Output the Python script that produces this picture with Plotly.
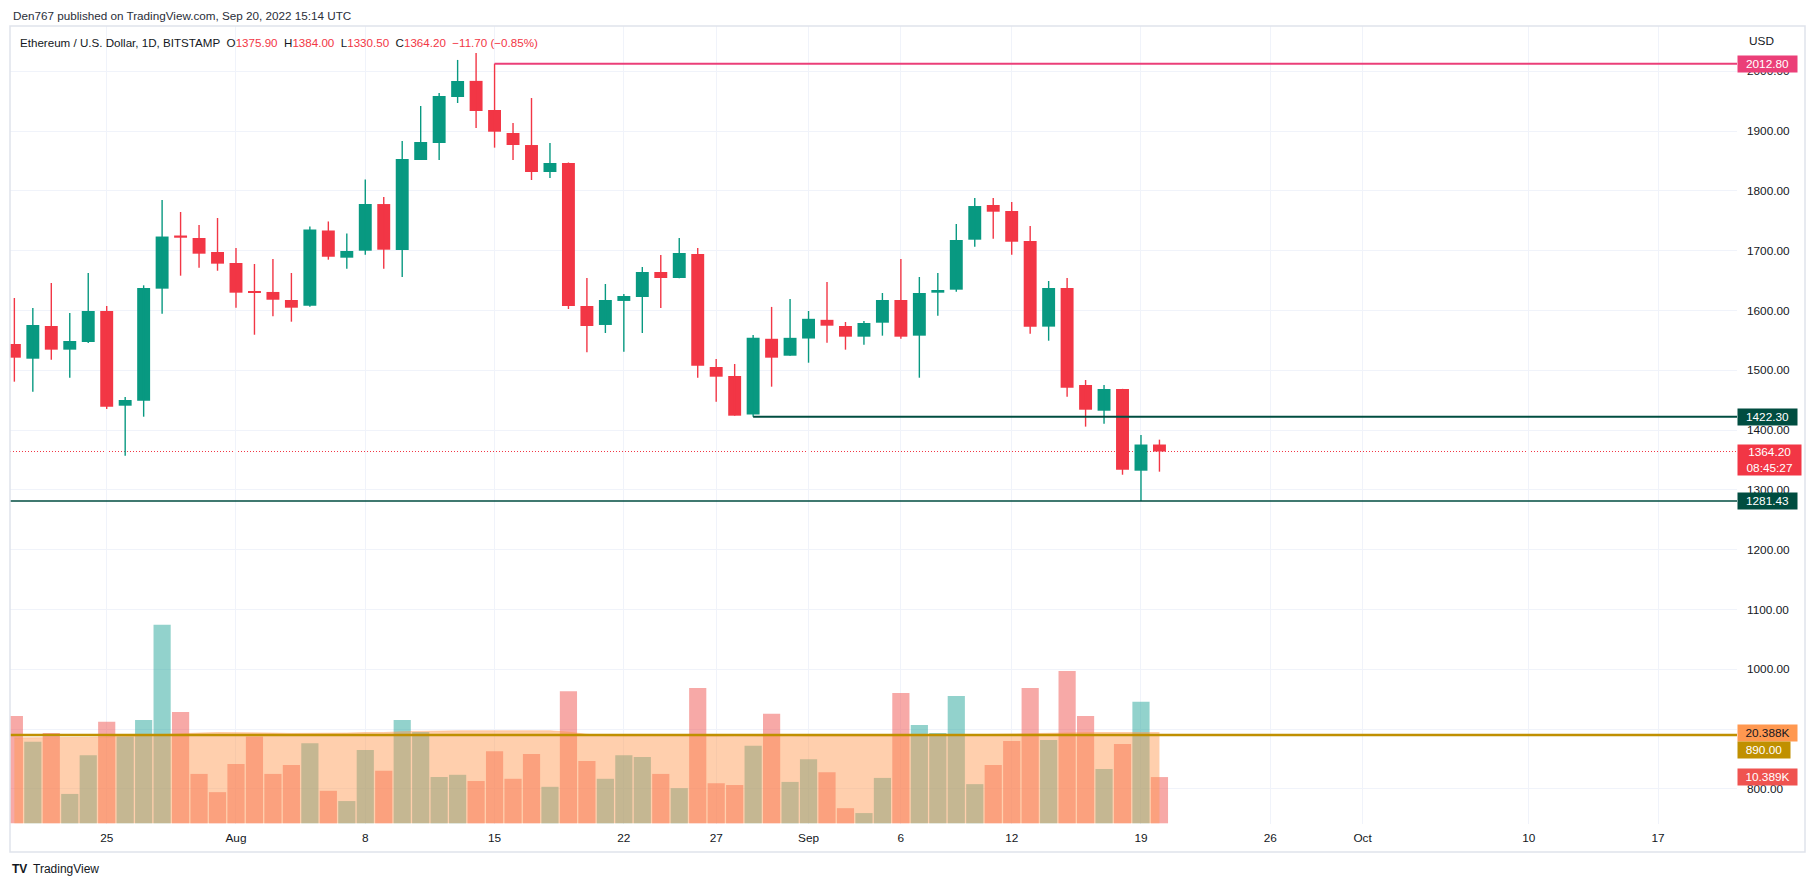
import plotly.graph_objects as go
import pandas as pd

# ---------------- data ----------------
dates = pd.date_range("2022-07-20", "2022-09-20", freq="D")

opens = [1544.0, 1519.4, 1574.1, 1534.5, 1547.3, 1599.2, 1440.8, 1449.2, 1636.5, 1725.4,
         1721.2, 1697.8, 1679.4, 1631.0, 1631.0, 1617.6, 1608.0, 1733.8, 1688.3, 1700.0,
         1778.0, 1701.2, 1851.7, 1880.1, 1957.0, 1984.0, 1935.3, 1896.8, 1876.7, 1831.6,
         1846.7, 1607.5, 1575.8, 1616.0, 1622.6, 1664.4, 1654.3, 1694.5, 1505.5, 1490.5,
         1426.1, 1552.7, 1524.4, 1553.1, 1584.4, 1574.1, 1556.2, 1579.6, 1617.6, 1557.9,
         1629.8, 1634.8, 1718.4, 1776.4, 1766.4, 1716.2, 1573.0, 1637.6, 1475.4, 1432.4,
         1468.7, 1332.1, 1375.9]
highs = [1620.9, 1604.2, 1646.0, 1595.8, 1662.7, 1607.5, 1455.3, 1642.1, 1784.8, 1764.7,
         1743.0, 1754.7, 1704.5, 1677.8, 1686.1, 1662.7, 1740.5, 1748.9, 1728.8, 1819.0,
         1789.8, 1883.4, 1942.0, 1963.7, 2019.0, 2030.6, 2012.8, 1913.5, 1955.3, 1880.1,
         1847.5, 1654.3, 1644.3, 1627.6, 1672.7, 1692.8, 1721.2, 1704.5, 1519.0, 1510.5,
         1559.2, 1606.0, 1619.3, 1599.2, 1647.7, 1580.8, 1582.4, 1629.3, 1686.1, 1656.0,
         1662.7, 1744.6, 1788.2, 1788.2, 1781.4, 1741.3, 1649.3, 1654.3, 1483.8, 1475.4,
         1469.0, 1391.8, 1384.0]
lows = [1481.0, 1464.2, 1517.7, 1487.6, 1545.6, 1435.3, 1357.2, 1422.4, 1594.6, 1658.2,
        1671.6, 1666.5, 1604.7, 1559.5, 1590.3, 1581.3, 1606.4, 1685.0, 1669.9, 1693.3,
        1669.9, 1656.0, 1851.7, 1851.7, 1947.0, 1905.2, 1872.3, 1851.7, 1818.2, 1821.6,
        1602.5, 1530.0, 1562.4, 1531.0, 1562.4, 1604.2, 1654.0, 1487.6, 1447.5, 1424.1,
        1422.3, 1472.6, 1524.4, 1512.7, 1546.2, 1534.5, 1542.8, 1557.9, 1552.8, 1487.6,
        1591.3, 1631.4, 1706.7, 1720.0, 1693.3, 1561.2, 1549.5, 1455.9, 1405.8, 1410.7,
        1325.4, 1281.43, 1330.5]
closes = [1521.1, 1575.8, 1534.5, 1549.0, 1599.2, 1439.2, 1450.3, 1637.6, 1723.7, 1721.7,
          1695.0, 1678.3, 1629.8, 1629.3, 1618.0, 1604.7, 1735.5, 1689.9, 1699.5, 1778.1,
          1701.7, 1853.3, 1881.8, 1958.7, 1983.8, 1933.6, 1899.0, 1876.7, 1831.6, 1846.7,
          1607.5, 1574.1, 1617.6, 1624.3, 1664.4, 1654.3, 1696.2, 1507.7, 1489.3, 1424.1,
          1554.3, 1521.1, 1554.3, 1586.1, 1574.6, 1556.2, 1579.1, 1617.6, 1556.2, 1629.3,
          1634.3, 1717.9, 1774.7, 1765.2, 1715.0, 1573.0, 1637.6, 1470.9, 1434.1, 1468.7,
          1333.8, 1375.9, 1364.2]
volumes_k = [24.1, 18.3, 20.3, 6.6, 15.3, 22.8, 19.5, 23.2, 44.6, 25.0,
             11.1, 7.0, 13.3, 19.5, 11.1, 13.1, 18.0, 7.3, 5.0, 16.5,
             11.8, 23.2, 20.5, 10.4, 10.9, 9.5, 16.2, 10.0, 15.6, 8.2,
             29.7, 14.0, 10.0, 15.3, 14.9, 11.1, 7.9, 30.4, 9.0, 8.6,
             17.4, 24.6, 9.3, 14.4, 11.5, 3.4, 2.3, 10.2, 29.3, 22.1,
             20.3, 28.6, 8.8, 13.1, 18.5, 30.4, 18.7, 34.2, 24.1, 12.2,
             17.8, 27.3, 10.389]
volume_ma_k = [19.2, 19.2, 19.3, 19.3, 19.3, 19.4, 19.6, 19.8, 20.0, 20.1,
               20.3, 20.4, 20.4, 20.4, 20.3, 20.2, 20.2, 20.2, 20.3, 20.4,
               20.4, 20.6, 20.7, 20.7, 20.8, 20.8, 20.8, 20.8, 20.9, 20.8,
               20.5, 20.0, 19.7, 19.6, 19.6, 19.5, 19.5, 19.6, 19.6, 19.5,
               19.6, 19.7, 19.7, 19.6, 19.6, 19.5, 19.5, 19.5, 19.6, 19.7,
               19.7, 19.8, 19.9, 20.0, 20.1, 20.2, 20.3, 20.3, 20.4, 20.4,
               20.4, 20.4, 20.388]

tick_dates = ["2022-07-25", "2022-08-01", "2022-08-08", "2022-08-15", "2022-08-22",
              "2022-08-27", "2022-09-01", "2022-09-06", "2022-09-12", "2022-09-19",
              "2022-09-26", "2022-10-01", "2022-10-10", "2022-10-17"]
tick_text = ["25", "Aug", "8", "15", "22", "27", "Sep", "6", "12", "19", "26", "Oct", "10", "17"]
price_ticks = [800, 900, 1000, 1100, 1200, 1300, 1400, 1500, 1600, 1700, 1800, 1900, 2000]
hidden_price_ticks = [900]   # covered by the volume labels in the reference

resistance_high = 2012.80
resistance_date = "2022-08-15"
support_level = 1422.30
support_date = "2022-08-29"
low_level = 1281.43
line_890 = 890.00

# ---------------- style / geometry ----------------
# The page body has an 8px default margin: the figure is sized so that it
# fills the 1815x887 window exactly, and positions are given in window pixels.
OFF = 8
W, H = 1815 - 2 * OFF - 1, 887 - 2 * OFF - 1
PL, PR, PT, PB = 10, 1737, 26, 824          # plot area, window pixels
GREEN = "#089981"
RED = "#f23645"
TXT = "#131722"
GRID = "#f0f3fa"
FONT = "Liberation Sans"
DAY_MS = 86400000

x_range = ["2022-07-19 18:20", "2022-10-21 06:30"]
y_range = [741.3, 2075.75]
y2_range = [-0.157, 179.17]


def px_x(x):
    return (x - PL) / (PR - PL)


def px_y(y):
    return (PB - y) / (PB - PT)


is_up = [c >= o for o, c in zip(opens, closes)]
body_base = [min(o, c) for o, c in zip(opens, closes)]
body_h = [abs(c - o) for o, c in zip(opens, closes)]
body_col = [GREEN if u else RED for u in is_up]
vol_col = ["rgba(38,166,154,0.5)" if u else "rgba(239,83,80,0.5)" for u in is_up]

fig = go.Figure()

# volume (overlay axis)
fig.add_trace(go.Bar(x=dates, y=volumes_k, marker=dict(color=vol_col, line=dict(width=0)),
                     width=0.93 * DAY_MS, yaxis="y2", hoverinfo="skip"))
fig.add_trace(go.Scatter(x=dates, y=volume_ma_k, mode="lines", fill="tozeroy",
                         fillcolor="rgba(255,152,80,0.47)",
                         line=dict(color="rgba(255,152,80,0.35)", width=1),
                         yaxis="y2", hoverinfo="skip"))

# wicks
for want, col in ((True, GREEN), (False, RED)):
    wx, wy = [], []
    for d, h, l, u in zip(dates, highs, lows, is_up):
        if u == want:
            wx += [d, d, None]
            wy += [l, h, None]
    fig.add_trace(go.Scatter(x=wx, y=wy, mode="lines", line=dict(color=col, width=1.4),
                             hoverinfo="skip"))

# bodies
fig.add_trace(go.Bar(x=dates, y=body_h, base=body_base, width=0.70 * DAY_MS,
                     marker=dict(color=body_col, line=dict(width=0)), hoverinfo="skip"))

shapes = [
    dict(type="line", xref="paper", yref="y", x0=0, x1=1, y0=closes[-1], y1=closes[-1],
         line=dict(color=RED, width=1, dash="1px,2px"), layer="between"),
    dict(type="line", xref="x", yref="y", x0=resistance_date, x1=x_range[1],
         y0=resistance_high, y1=resistance_high, line=dict(color="#eb3f78", width=2), layer="above"),
    dict(type="line", xref="x", yref="y", x0=support_date, x1=x_range[1],
         y0=support_level, y1=support_level, line=dict(color="#004d40", width=2.2), layer="above"),
    dict(type="line", xref="paper", yref="y", x0=0, x1=1, y0=low_level, y1=low_level,
         line=dict(color="#004d40", width=1.5), layer="above"),
    dict(type="line", xref="paper", yref="y", x0=0, x1=1, y0=line_890, y1=line_890,
         line=dict(color="#c09000", width=2.5), layer="above"),
    # frame
    dict(type="rect", xref="paper", yref="paper", x0=0, x1=px_x(1805), y0=px_y(852), y1=1,
         line=dict(color="#e0e3eb", width=1.5), fillcolor="rgba(0,0,0,0)", layer="above"),
]


def axis_label(text, y, yref, bg, fg="white", yshift=0, width=55, height=12):
    return dict(text=text, xref="paper", x=1, xanchor="left", yref=yref, y=y, yanchor="middle",
                yshift=yshift, showarrow=False, bgcolor=bg, borderpad=2, width=width,
                height=height, align="center", font=dict(family=FONT, size=11.8, color=fg))


chg = closes[-1] - closes[-2]
pct = chg / closes[-2] * 100


def red(s):
    return f'<span style="color:{RED}">{s}</span>'


def fmt_signed(v, suffix=""):
    return ("\u2212" if v < 0 else "+") + f"{abs(v):.2f}" + suffix


legend_txt = ("Ethereum / U.S. Dollar, 1D, BITSTAMP\u00a0\u00a0"
              + "O" + red(f"{opens[-1]:.2f}") + "\u00a0\u00a0"
              + "H" + red(f"{highs[-1]:.2f}") + "\u00a0\u00a0"
              + "L" + red(f"{lows[-1]:.2f}") + "\u00a0\u00a0"
              + "C" + red(f"{closes[-1]:.2f}") + "\u00a0\u00a0"
              + red(fmt_signed(chg) + " (" + fmt_signed(pct, "%") + ")"))

annotations = [
    dict(text="Den767 published on TradingView.com, Sep 20, 2022 15:14 UTC", xref="paper",
         yref="paper", x=px_x(10.5), y=px_y(15), xanchor="left", yanchor="middle",
         showarrow=False, font=dict(family=FONT, size=11.7, color="#2a2e39")),
    dict(text=legend_txt, xref="paper", yref="paper", x=px_x(18.4), y=px_y(42),
         xanchor="left", yanchor="middle", showarrow=False,
         font=dict(family=FONT, size=11.6, color=TXT)),
    dict(text="USD", xref="paper", yref="paper", x=px_x(1746.5), y=px_y(41),
         xanchor="left", yanchor="middle", showarrow=False,
         font=dict(family=FONT, size=11.8, color=TXT)),
    axis_label(f"{resistance_high:.2f}", resistance_high, "y", "#eb3f78"),
    axis_label(f"{support_level:.2f}", support_level, "y", "#004d40"),
    dict(text=f"{closes[-1]:.2f}<br>08:45:27", xref="paper", x=1, xanchor="left", yref="y",
         y=closes[-1], yanchor="top", yshift=8, showarrow=False, bgcolor=RED, borderpad=2,
         width=59, height=26, align="center", font=dict(family=FONT, size=11.8, color="white")),
    axis_label(f"{low_level:.2f}", low_level, "y", "#004d40"),
    axis_label(f"{volume_ma_k[-1]:.3f}K", volume_ma_k[-1], "y2", "#ff9850", fg=TXT),
    axis_label(f"{line_890:.2f}", line_890, "y", "#c09000", yshift=-14.5, width=48),
    axis_label(f"{volumes_k[-1]:.3f}K", volumes_k[-1], "y2", "#ef5350"),
    dict(text="<b>TV</b>", xref="paper", yref="paper", x=px_x(10), y=px_y(869),
         xanchor="left", yanchor="middle", showarrow=False,
         font=dict(family=FONT, size=12, color=TXT)),
    dict(text="TradingView", xref="paper", yref="paper", x=px_x(31), y=px_y(869),
         xanchor="left", yanchor="middle", showarrow=False,
         font=dict(family=FONT, size=12, color=TXT)),
]

fig.update_layout(
    width=W, height=H,
    margin=dict(l=PL - OFF, r=(W + OFF) - PR, t=PT - OFF, b=(H + OFF) - PB, pad=0),
    paper_bgcolor="white", plot_bgcolor="white",
    showlegend=False, hovermode=False, barmode="overlay",
    xaxis=dict(type="date", range=x_range, tickvals=tick_dates, ticktext=tick_text,
               showgrid=True, gridcolor=GRID, gridwidth=1, zeroline=False, showline=False,
               ticks="", ticklabelstandoff=5,
               tickfont=dict(family=FONT, size=11.8, color=TXT), fixedrange=True),
    yaxis=dict(range=y_range, side="right", tickvals=price_ticks,
               ticktext=["" if v in hidden_price_ticks else f"{v:.2f}" for v in price_ticks],
               showgrid=True, gridcolor=GRID,
               gridwidth=1, zeroline=False, showline=False, ticks="", ticklabelstandoff=9,
               tickfont=dict(family=FONT, size=11.8, color=TXT), fixedrange=True),
    yaxis2=dict(range=y2_range, overlaying="y", visible=False, showgrid=False,
                zeroline=False, fixedrange=True),
    shapes=shapes,
    annotations=annotations,
)

fig.write_html("out.html", config={"displayModeBar": False})
